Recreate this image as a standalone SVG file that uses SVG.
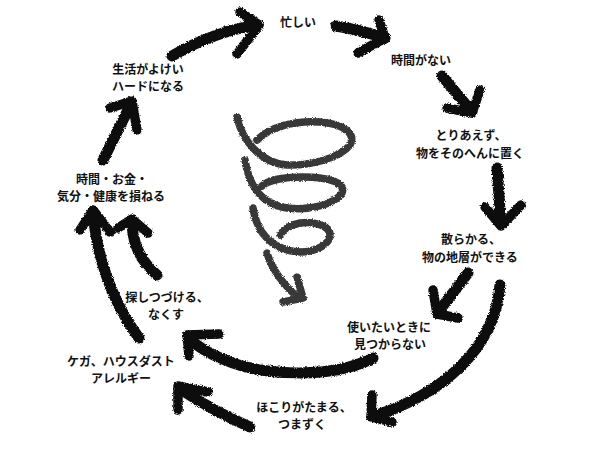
<svg xmlns="http://www.w3.org/2000/svg" width="600" height="450" viewBox="0 0 600 450">
<defs>
<filter id="brush" x="-10%" y="-10%" width="120%" height="120%">
<feTurbulence type="fractalNoise" baseFrequency="0.9" numOctaves="2" seed="3" result="n"/>
<feDisplacementMap in="SourceGraphic" in2="n" scale="3.5" xChannelSelector="R" yChannelSelector="G"/>
</filter>
<filter id="chalk" x="-10%" y="-10%" width="120%" height="120%">
<feTurbulence type="fractalNoise" baseFrequency="1.2" numOctaves="2" seed="7" result="n"/>
<feDisplacementMap in="SourceGraphic" in2="n" scale="3" xChannelSelector="R" yChannelSelector="G"/>
</filter>
</defs>
<style>
.arrow path{fill:none;stroke:#111;stroke-width:11;stroke-linecap:round;stroke-linejoin:round}
.arrow path.h{stroke-width:9.5}
.spiral path{fill:none;stroke:#383838;stroke-width:7.5;stroke-linecap:round;stroke-linejoin:round}
text{font-family:"Noto Sans CJK JP","Noto Sans CJK SC",sans-serif;font-size:12px;font-weight:700;fill:#111;text-anchor:middle}
</style>
<rect width="600" height="450" fill="#fff"/>

<g id="connectors" class="arrow" filter="url(#brush)">
<path d="M172,56 Q215,31 258,25"/><path class="h" d="M240,12 L259,25 L237,54"/>
<path d="M336,26 Q360,30 385,38"/><path class="h" d="M379,20 L385,38 L358,53"/>
<path d="M442,76 Q458,95 472,112"/><path class="h" d="M480,90 L472,113 L447,108"/>
<path d="M497,168 L501,224"/><path class="h" d="M485,207 L501,226 L521,205"/>
<path d="M468,273 L439,311"/><path class="h" d="M433,290 L437,314 L458,318"/>
<path d="M500,285 C495,350 440,395 374,416"/><path class="h" d="M372,395 L371,417 L392,422"/>
<path d="M373,358 C330,380 260,375 225,360 Q200,350 189,338"/><path class="h" d="M219,334 L187,335 L189,356"/>
<path d="M250,427 Q215,412 180,389"/><path class="h" d="M208,392 L178,386 L178,410"/>
<path d="M139,338 Q100,285 93,213"/><path class="h" d="M80,230 L93,210 L110,232"/>
<path d="M157,275 Q133,255 132,223"/><path class="h" d="M118,228 L132,219 L148,233"/>
<path d="M103,160 L131,104"/><path class="h" d="M110,108 L132,101 L137,130"/>
</g>

<g id="spiral" class="spiral" filter="url(#chalk)">
<path d="M237,117 C242,140 260,163 287,165 C310,166 340,158 350,145 C356,134 345,124 320,122 C295,120 270,127 257,140"/>
<path d="M245,160 C248,180 258,204 287,208 C310,211 335,204 342,193 C346,183 330,177 303,177 C285,177 268,180 262,186"/>
<path d="M253,208 C256,228 268,250 300,252 C318,252 330,243 330,235 C330,226 315,221 300,223 C290,225 283,229 280,235"/>
<path d="M267,253 C272,270 285,287 300,299"/>
<path d="M297,277 L303,298 L283,302"/>
</g>

<g id="n1"><text x="298" y="27">忙しい</text></g>
<g id="n2"><text x="421" y="65">時間がない</text></g>
<g id="n3"><text x="471" y="140">とりあえず、</text><text x="470" y="157.5">物をそのへんに置く</text></g>
<g id="n4"><text x="471" y="244.25">散らかる、</text><text x="470" y="261.75">物の地層ができる</text></g>
<g id="n5"><text x="389" y="331.75">使いたいときに</text><text x="390" y="349.25">見つからない</text></g>
<g id="n6"><text x="304" y="411.75">ほこりがたまる、</text><text x="302" y="429.25">つまずく</text></g>
<g id="n7"><text x="121" y="365.75">ケガ、ハウスダスト</text><text x="121" y="383.25">アレルギー</text></g>
<g id="n8"><text x="167" y="301.75">探しつづける、</text><text x="166" y="319.25">なくす</text></g>
<g id="n9"><text x="112" y="183.75">時間・お金・</text><text x="111" y="201.25">気分・健康を損ねる</text></g>
<g id="n10"><text x="148" y="73.75">生活がよけい</text><text x="148" y="91.25">ハードになる</text></g>
</svg>
